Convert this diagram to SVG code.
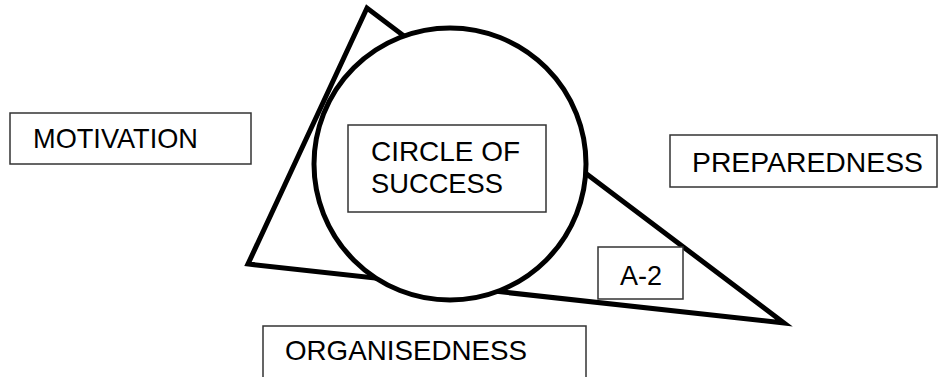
<svg xmlns="http://www.w3.org/2000/svg" width="940" height="377" viewBox="0 0 940 377">
<style>
.box{fill:#fff;stroke:#333;stroke-width:1.5}
.lbl{font-family:"Liberation Sans",Arial,sans-serif;font-size:28px;fill:#000}
.shape{fill:#fff;stroke:#000;stroke-width:5;stroke-linejoin:miter}
</style>
<rect width="940" height="377" fill="#fff"/>
<g id="triangle"><polygon class="shape" points="367,8 248,264 784,323"/></g>
<g id="circle"><circle class="shape" cx="450" cy="164" r="136" stroke-width="4.5"/></g>
<g id="circle-of-success">
<rect class="box" x="348" y="125" width="198" height="87"/>
<text class="lbl" x="371" y="161" textLength="149" lengthAdjust="spacingAndGlyphs">CIRCLE OF</text>
<text class="lbl" x="371" y="193" textLength="132" lengthAdjust="spacingAndGlyphs">SUCCESS</text>
</g>
<g id="motivation">
<rect class="box" x="10" y="113" width="241" height="51"/>
<text class="lbl" x="33" y="148" textLength="165" lengthAdjust="spacingAndGlyphs">MOTIVATION</text>
</g>
<g id="preparedness">
<rect class="box" x="670" y="135" width="267" height="52"/>
<text class="lbl" x="692" y="172" textLength="231" lengthAdjust="spacingAndGlyphs">PREPAREDNESS</text>
</g>
<g id="a2">
<rect class="box" x="598" y="247" width="85" height="52"/>
<text class="lbl" x="620" y="285" textLength="42" lengthAdjust="spacingAndGlyphs">A-2</text>
</g>
<g id="organisedness">
<rect class="box" x="263" y="326" width="323" height="60"/>
<text class="lbl" x="285" y="360" textLength="242" lengthAdjust="spacingAndGlyphs">ORGANISEDNESS</text>
</g>
<g id="connectors"/>
</svg>
